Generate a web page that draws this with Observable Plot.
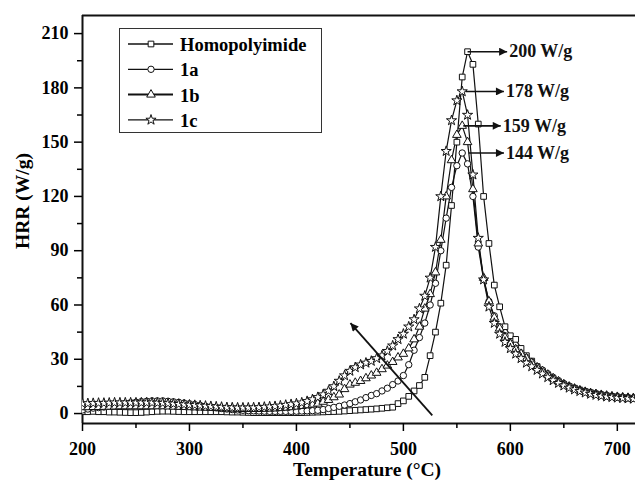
<!DOCTYPE html>
<html><head><meta charset="utf-8">
<script src="https://cdn.jsdelivr.net/npm/d3@7"></script>
<script src="https://cdn.jsdelivr.net/npm/@observablehq/plot@0.6"></script>
<style>body{margin:0;background:#fff} #chart{width:635px;height:483px}</style>
</head><body><div id="chart"></div>
<script>
// ---- data ----
const temps = d3.range(200, 721, 5); // sampling grid, 200..720 °C every 5 °C
const homopolyimide = [
  1, 1, 1.2, 1, 1, 0.8, 0.8, 0.7, 0.6, 0.5,
  0.5, 0.6, 0.8, 1, 1.2, 1.3, 1.3, 1.2, 1.1, 1,
  1, 1, 1, 1, 1, 1, 1, 0.9, 0.8, 0.8,
  0.7, 0.6, 0.5, 0.5, 0.5, 0.5, 0.5, 0.5, 0.5, 0.5,
  0.5, 0.5, 0.6, 0.7, 0.8, 0.9, 1, 1.1, 1.2, 1.4,
  1.6, 1.8, 2, 2.2, 2.4, 2.6, 2.9, 3.2, 3.5, 5.5,
  7, 9.5, 12.5, 15.5, 20, 32, 45, 61, 82, 115,
  150, 186, 200, 193, 160, 120, 94, 71, 59, 48,
  43, 41, 36, 32, 29, 26, 23.5, 21, 19, 17.5,
  16, 15, 14, 13, 12.2, 11.5, 10.8, 10.3, 9.8, 9.4,
  9.1, 8.8, 8.6, 8.4, 8.2];
const s1a = [
  2, 2.5, 3, 3.3, 3.6, 4, 4.5, 5, 5.5, 6,
  6.3, 6.6, 6.8, 7, 7, 7, 6.8, 6.5, 6.2, 5.8,
  5.4, 5, 4.5, 4, 3.6, 3.2, 2.8, 2.5, 2.2, 2,
  1.8, 1.6, 1.5, 1.4, 1.3, 1.2, 1.2, 1.2, 1.2, 1.2,
  1.3, 1.4, 1.5, 1.6, 1.8, 2.2, 2.8, 3.4, 4, 4.7,
  5.5, 6.5, 7.5, 8.8, 10, 11, 12.5, 14, 16, 18,
  21, 27, 35, 42, 50, 60, 72, 90, 108, 125,
  137, 144, 138, 120, 92, 74, 62, 54, 48, 43,
  39, 36, 33.5, 31, 28.5, 26, 24, 22, 20, 18.2,
  16.6, 15.2, 14, 13, 12.3, 11.6, 11, 10.5, 10, 9.6,
  9.3, 9, 8.8, 8.6, 8.4];
const s1b = [
  3.5, 3.5, 3.6, 3.6, 3.7, 3.8, 3.9, 4, 4, 4,
  4, 4, 4, 4, 4, 4, 3.9, 3.8, 3.7, 3.6,
  3.5, 3.4, 3.3, 3.2, 3.1, 3, 2.9, 2.8, 2.7, 2.6,
  2.5, 2.5, 2.5, 2.5, 2.6, 2.7, 2.8, 3, 3.2, 3.5,
  3.8, 4.2, 4.6, 5, 5.5, 6.5, 7.5, 9, 10.5, 13.5,
  16, 17, 18, 19.5, 21, 22.5, 24.5, 26.5, 28.5, 31,
  33, 36, 41, 48, 58, 66, 78, 96, 120, 140,
  154, 159, 150, 124, 94, 75, 62, 53, 47, 42,
  38.5, 35.5, 33, 30.5, 28, 25.5, 23.5, 21.5, 19.5, 17.8,
  16.2, 14.9, 13.8, 12.8, 12, 11.3, 10.8, 10.3, 9.9, 9.5,
  9.2, 8.9, 8.7, 8.5, 8.3];
const s1c = [
  5.5, 5.6, 5.7, 5.8, 5.8, 5.9, 6, 6, 6, 6,
  6, 6, 6, 6, 5.9, 5.8, 5.6, 5.4, 5.2, 5,
  4.8, 4.6, 4.4, 4.2, 4, 3.8, 3.6, 3.4, 3.3, 3.2,
  3.2, 3.2, 3.3, 3.4, 3.6, 3.8, 4, 4.3, 4.7, 5.1,
  5.5, 6, 6.8, 7.8, 9, 10.5, 12.5, 15, 18, 21,
  23.5, 25.5, 27, 28, 29, 30.5, 32, 34.5, 37.5, 41,
  44, 48, 52, 58, 65, 75, 92, 120, 145, 162,
  173, 178, 165, 132, 97, 74, 59, 50, 44, 39.5,
  36, 33, 30.5, 28, 26, 24, 22, 20, 18.3, 16.8,
  15.4, 14.2, 13.2, 12.3, 11.5, 10.8, 10.2, 9.7, 9.3, 9,
  8.7, 8.5, 8.3, 8.1, 7.9];

const seriesNames = ["Homopolyimide", "1a", "1b", "1c"];
const seriesValues = [homopolyimide, s1a, s1b, s1c];
const seriesSymbols = ["square", "circle", "triangle", "star"];

const peakLabels = ["200 W/g", "178 W/g", "159 W/g", "144 W/g"];
const peakValues = [200, 178, 159, 144];
const arrowFromT = [560, 558, 556, 561];
const arrowToT = [597, 594, 591, 594];

const trendArrow = {t1: 527, v1: -1, t2: 450.5, v2: 50};

const xTicks = [200, 300, 400, 500, 600, 700];
const xMinor = [250, 350, 450, 550, 650];
const yTicks = [0, 30, 60, 90, 120, 150, 180, 210];
const yMinor = [15, 45, 75, 105, 135, 165, 195];
const xDomain = [200, 717];
const yDomain = [-5.5, 220];

// ---- build tables ----
const rows = seriesNames.map((s, k) => temps.map((t, i) => ({t, v: seriesValues[k][i], s})));
const annot = peakLabels.map((label, i) => ({label, v: peakValues[i], from: arrowFromT[i], to: arrowToT[i]}));

const FONT = "'Liberation Serif', 'Times New Roman', serif";
const R = 3.2;

const marks = [
  Plot.ruleX([xDomain[0]], {stroke: "#111", strokeWidth: 2}),
  Plot.ruleY([yDomain[0]], {stroke: "#111", strokeWidth: 2}),
  Plot.ruleY([yDomain[1]], {stroke: "#111", strokeWidth: 2}),
  Plot.axisX(xTicks, {tickSize: 8, tickPadding: 11, strokeWidth: 1.5, fontSize: 18, label: null}),
  Plot.axisX(xMinor, {tickSize: 5, text: null, strokeWidth: 1.5, label: null}),
  Plot.axisY(yTicks, {tickSize: 8, tickPadding: 6, strokeWidth: 1.5, fontSize: 18, label: null}),
  Plot.axisY(yMinor, {tickSize: 5, text: null, strokeWidth: 1.5, label: null}),
];
rows.forEach((data) => {
  marks.push(Plot.line(data, {x: "t", y: "v", stroke: "#111", strokeWidth: 1.2, clip: true}));
});
rows.forEach((data, k) => {
  marks.push(Plot.dot(data, {x: "t", y: "v", symbol: seriesSymbols[k], r: R, fill: "white", stroke: "#111", strokeWidth: 1, clip: true}));
});
marks.push(
  Plot.link(annot, {x1: "from", x2: "to", y1: "v", y2: "v", stroke: "#111", strokeWidth: 1.6}),
  Plot.text(annot, {x: "to", y: "v", text: "label", textAnchor: "start", dx: 2, fontSize: 18, fontWeight: "bold", fill: "#111"}),
  Plot.link([trendArrow], {x1: "t1", y1: "v1", x2: "t2", y2: "v2", stroke: "#111", strokeWidth: 1.8})
);

const plot = Plot.plot({
  width: 635,
  height: 483,
  marginLeft: 82,
  marginRight: 0,
  marginTop: 15,
  marginBottom: 60,
  x: {domain: xDomain},
  y: {domain: yDomain},
  style: `font-family: ${FONT}; font-weight: bold; font-size: 18px; background: white; color: #000;`,
  marks
});

// arrow heads on the link marks
const svg = d3.select(plot);
const defs = svg.insert("defs", ":first-child");
defs.append("marker").attr("id", "ah").attr("viewBox", "0 0 10 10")
  .attr("refX", 10).attr("refY", 5).attr("markerUnits", "userSpaceOnUse")
  .attr("markerWidth", 12).attr("markerHeight", 8).attr("orient", "auto")
  .append("path").attr("d", "M0,0L10,5L0,10z").attr("fill", "#111");
svg.selectAll('g[aria-label="link"] path').attr("marker-end", "url(#ah)");

function label(sel, size) {
  return sel.attr("fill", "#000")
    .style("font-size", size + "px").style("font-weight", "bold").style("font-family", FONT);
}
// axis titles
label(svg.append("text").attr("x", 367).attr("y", 476).attr("text-anchor", "middle"), 19.5)
  .text("Temperature (°C)");
label(svg.append("text").attr("transform", "translate(29,201) rotate(-90)").attr("text-anchor", "middle"), 19.5)
  .text("HRR (W/g)");

// legend
const lg = svg.append("g").attr("class", "legend");
lg.append("rect").attr("x", 119.5).attr("y", 28.5).attr("width", 202).attr("height", 104)
  .attr("fill", "white").attr("stroke", "#333").attr("stroke-width", 1);
const symMap = {square: d3.symbolSquare, circle: d3.symbolCircle, triangle: d3.symbolTriangle, star: d3.symbolStar};
seriesNames.forEach((name, i) => {
  const cy = 44 + i * 25.3;
  lg.append("line").attr("x1", 128).attr("x2", 173).attr("y1", cy).attr("y2", cy)
    .attr("stroke", "#111").attr("stroke-width", i === 2 ? 2 : 1.3);
  lg.append("path").attr("transform", `translate(151,${cy})`)
    .attr("d", d3.symbol(symMap[seriesSymbols[i]], R * R * Math.PI)())
    .attr("fill", "white").attr("stroke", "#111").attr("stroke-width", 1);
  label(lg.append("text").attr("x", 180).attr("y", cy + 7).attr("text-anchor", "start"), 18.5)
    .text(name);
});

document.getElementById("chart").appendChild(plot);
</script>
</body></html>
